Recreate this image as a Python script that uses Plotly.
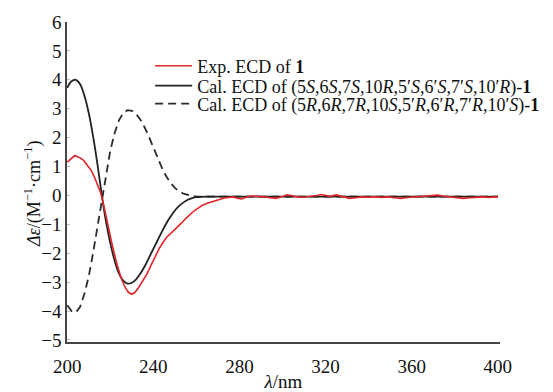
import plotly.graph_objects as go

# ---- data ----
wl_cal_s = [200, 202, 204, 206, 208, 210, 212, 214, 216, 218, 220, 222, 224, 226, 228, 230, 232, 234,
            236, 238, 240, 242, 244, 246, 248, 250, 252, 254, 256, 258, 260, 265, 270, 280, 300, 320,
            340, 360, 380, 400]
cd_cal_s = [3.72, 3.95, 4.0, 3.85, 3.45, 2.85, 2.05, 1.1, 0.05, -0.9, -1.65, -2.25, -2.7, -2.95, -3.05,
            -3.02, -2.9, -2.7, -2.45, -2.15, -1.85, -1.55, -1.25, -0.97, -0.73, -0.52, -0.36, -0.24,
            -0.15, -0.09, -0.06, -0.04, -0.04, -0.04, -0.04, -0.04, -0.04, -0.04, -0.04, -0.04]

wl_cal_r = [200, 202, 204, 206, 208, 210, 212, 214, 216, 218, 220, 222, 224, 226, 228, 230, 232, 234,
            236, 238, 240, 242, 244, 246, 248, 250, 252, 254, 256, 258, 260, 265, 270, 280, 300, 320,
            340, 360, 380, 400]
cd_cal_r = [-3.8, -4.0, -4.05, -3.85, -3.4, -2.8, -2.0, -1.1, -0.15, 0.75, 1.55, 2.15, 2.6, 2.85, 2.95,
            2.93, 2.82, 2.62, 2.35, 2.02, 1.65, 1.28, 0.95, 0.66, 0.43, 0.26, 0.14, 0.06, 0.01, -0.02,
            -0.04, -0.04, -0.04, -0.04, -0.04, -0.04, -0.04, -0.04, -0.04, -0.04]

wl_exp = [200, 201.5, 203.5, 205, 206, 207.5, 209, 211, 212.5, 214, 215.5, 217, 219, 221, 223, 225, 227,
          228.5, 230, 231.5, 233, 235, 237, 239, 241, 243, 245, 246.5, 248, 249.5, 251, 253, 255, 257,
          259, 261, 263, 265, 267, 269, 271, 273, 275, 277, 279, 281, 283, 285, 288, 291, 294, 297, 300,
          302, 304, 307, 310, 313, 316, 318, 320, 322, 325, 328, 331, 334, 337, 340, 343, 346, 349, 352,
          355, 358, 361, 364, 367, 370, 372, 375, 378, 381, 384, 387, 390, 393, 396, 399, 400]
cd_exp = [1.15, 1.24, 1.38, 1.33, 1.3, 1.22, 1.08, 0.88, 0.66, 0.4, 0.1, -0.35, -1.1, -1.75, -2.35,
          -2.85, -3.2, -3.36, -3.42, -3.35, -3.2, -2.98, -2.72, -2.4, -2.08, -1.8, -1.57, -1.42, -1.32,
          -1.22, -1.12, -0.96, -0.8, -0.66, -0.53, -0.43, -0.33, -0.27, -0.22, -0.17, -0.12, -0.09,
          -0.07, -0.05, -0.1, -0.12, -0.06, -0.03, -0.02, -0.05, -0.08, -0.1, -0.04, 0.02, 0.0, -0.05,
          -0.06, -0.04, 0.0, 0.03, 0.0, -0.03, 0.02, -0.04, -0.1, -0.08, -0.05, -0.06, -0.04, -0.07,
          -0.05, -0.08, -0.1, -0.07, -0.05, -0.03, -0.02, 0.0, 0.01, -0.03, -0.06, -0.08, -0.1, -0.08,
          -0.06, -0.05, -0.07, -0.05, -0.04]

name_exp = "Exp. ECD of <b>1</b>"
name_s = "Cal. ECD of (5<i>S</i>,6<i>S</i>,7<i>S</i>,10<i>R</i>,5′<i>S</i>,6′<i>S</i>,7′<i>S</i>,10′<i>R</i>)-<b>1</b>"
name_r = "Cal. ECD of (5<i>R</i>,6<i>R</i>,7<i>R</i>,10<i>S</i>,5′<i>R</i>,6′<i>R</i>,7′<i>R</i>,10′<i>S</i>)-<b>1</b>"

x_ticks = [200, 240, 280, 320, 360, 400]
y_ticks = [-5, -4, -3, -2, -1, 0, 1, 2, 3, 4, 5, 6]

FONT = "Liberation Serif"

fig = go.Figure()
fig.add_trace(go.Scatter(x=wl_cal_r, y=cd_cal_r, mode="lines", name=name_r, legend="legend3",
                         showlegend=True,
                         line=dict(color="#2b2b2b", width=1.8, dash="8px,5px")))
fig.add_trace(go.Scatter(x=wl_cal_s, y=cd_cal_s, mode="lines", name=name_s, legend="legend2",
                         showlegend=True,
                         line=dict(color="#222222", width=1.8, shape="spline")))
fig.add_trace(go.Scatter(x=wl_exp, y=cd_exp, mode="lines", name=name_exp, legend="legend",
                         showlegend=True,
                         line=dict(color="#e3262b", width=1.6)))

leg_common = dict(font=dict(family=FONT, size=18, color="#111"), bgcolor="rgba(0,0,0,0)",
                  borderwidth=0, xanchor="left", yanchor="middle", itemwidth=37,
                  xref="paper", yref="paper")
# page body has an 8px default margin, so the figure is sized to fit the window exactly
fig.update_layout(
    width=545, height=384,
    margin=dict(l=59, r=53, t=14, b=50, autoexpand=False),
    paper_bgcolor="white", plot_bgcolor="white",
    showlegend=True,
    font=dict(family=FONT, size=19, color="#111"),
    legend=dict(x=0.192, y=0.8625, **leg_common),
    legend2=dict(x=0.192, y=0.80, **leg_common),
    legend3=dict(x=0.192, y=0.744, **leg_common),
    xaxis=dict(range=[199.9, 401], tickvals=x_ticks, ticktext=[str(v) for v in x_ticks],
               showgrid=False, zeroline=False, showline=True, linecolor="#444", linewidth=1.5,
               ticks="outside", ticklen=6, tickcolor="rgba(0,0,0,0)",
               tickfont=dict(family=FONT, size=19, color="#111"),
               title=dict(text="<i>λ</i>/nm", font=dict(family=FONT, size=19, color="#111"), standoff=12)),
    yaxis=dict(range=[-5.07, 6.0], tickvals=y_ticks, showgrid=False, zeroline=False,
               showline=True, linecolor="#444", linewidth=1.5,
               ticks="inside", ticklen=3, tickcolor="#bbb",
               tickfont=dict(family=FONT, size=19, color="#111")),
    annotations=[dict(text="<i>Δε</i>/(M<sup>−1</sup>·cm<sup>−1</sup>)", xref="paper", yref="y",
                      x=-0.0785, y=0.05, textangle=-90, showarrow=False, xanchor="center",
                      yanchor="middle", font=dict(family=FONT, size=18, color="#111"))],
)
fig.write_html("out.html")
